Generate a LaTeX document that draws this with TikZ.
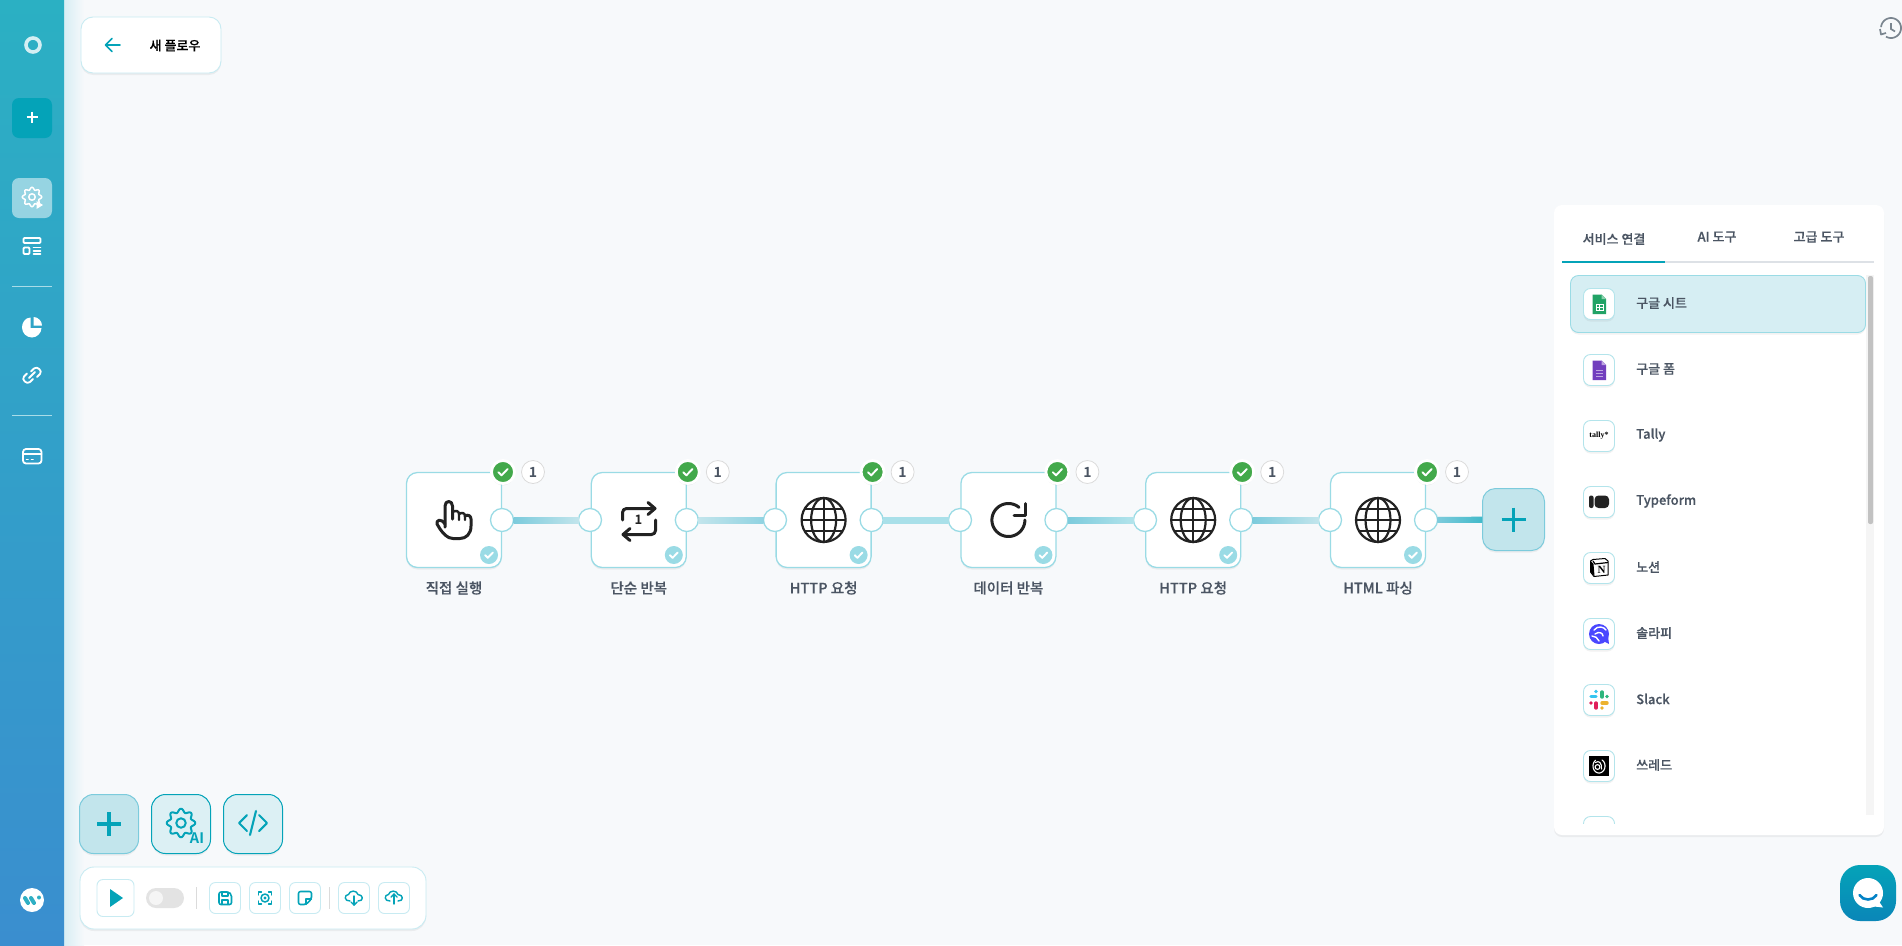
\documentclass[tikz,border=0pt]{standalone}
\usepackage{fontspec}
\setmainfont{Noto Sans CJK KR}[BoldFont={Noto Sans CJK KR Medium},BoldFeatures={FakeBold=0.3}]
\newfontfamily\heavyface{Noto Sans CJK KR Bold}
\newfontfamily\logoserif{Liberation Serif}
\usetikzlibrary{calc,shadows}

\definecolor{pagebg}{HTML}{F7F9FB}
\definecolor{tealmain}{HTML}{04A3B8}
\definecolor{tealpale}{HTML}{C2E5EC}
\definecolor{tealmist}{HTML}{DCF0F4}
\definecolor{tealline}{HTML}{9ADBE5}
\definecolor{tealedge}{HTML}{7CCBDC}
\definecolor{frameline}{HTML}{C8EBF2}
\definecolor{labelgray}{HTML}{4B5563}
\definecolor{okgreen}{HTML}{43A94B}
\definecolor{inkdark}{HTML}{222222}
\definecolor{sidetop}{HTML}{2BB0C3}
\definecolor{sidebottom}{HTML}{3A8ECF}
\definecolor{sideglow}{HTML}{D8EEF4}
\definecolor{sidesep}{HTML}{A9DCE8}
\definecolor{logoteal}{HTML}{2FAFC4}
\definecolor{historygray}{HTML}{7A858F}
\definecolor{tabrule}{HTML}{DDE1E6}
\definecolor{rowfill}{HTML}{D6EEF3}
\definecolor{sheetgreen}{HTML}{21A366}
\definecolor{sheetfold}{HTML}{8CD2AF}
\definecolor{formpurple}{HTML}{723FBE}
\definecolor{formfold}{HTML}{BEA5E1}
\definecolor{solapiblue}{HTML}{4A47FF}
\definecolor{slackblue}{HTML}{36C5F0}
\definecolor{slackgreen}{HTML}{2EB67D}
\definecolor{slackyellow}{HTML}{ECB22E}
\definecolor{slackred}{HTML}{E01E5A}
\definecolor{chatbottom}{HTML}{0A86B8}

\tikzset{
  softshadow/.style={drop shadow={opacity=.10,shadow xshift=0pt,shadow yshift=-2pt}},
  flowbox/.style={draw=tealline,line width=1.3pt,fill=white,rounded corners=11pt,minimum size=95pt,inner sep=0pt,outer sep=0pt,softshadow},
  portdot/.style={circle,draw=tealline,line width=1.3pt,fill=white,minimum size=23pt,inner sep=0pt,outer sep=0pt},
  okdot/.style={circle,draw=white,line width=2.8pt,fill=okgreen,minimum size=23pt,inner sep=0pt,outer sep=0pt,softshadow},
  countdot/.style={circle,draw=black!14,line width=.8pt,fill=white,minimum size=23pt,inner sep=0pt,text=labelgray,font=\heavyface\fontsize{14}{14}\selectfont},
  donedot/.style={circle,fill=tealline,minimum size=18pt,inner sep=0pt},
  flowlabel/.style={text=labelgray,inner sep=0pt,font=\fontsize{14.5}{16}\selectfont\bfseries},
  rowtext/.style={anchor=west,text=labelgray,inner sep=0pt,font=\fontsize{13}{15}\selectfont\bfseries},
  tabtext/.style={text=labelgray,inner sep=0pt,font=\fontsize{13}{15}\selectfont\bfseries},
  iconbox/.style={draw=tealline!75,line width=.9pt,fill=white,rounded corners=7pt,minimum size=31pt,inner sep=0pt,softshadow},
  toolbtn/.style={draw=frameline,line width=.9pt,fill=white,rounded corners=6pt,minimum size=31pt,inner sep=0pt},
  bigbtn/.style={draw=tealmain,line width=1pt,fill=tealmist,rounded corners=14pt,minimum size=59pt,inner sep=0pt,softshadow},
  plusbtn/.style={draw=tealedge,line width=1pt,fill=tealpale,rounded corners=13pt,inner sep=0pt,softshadow},
  sideicon/.style={draw=white,line width=1.8pt,line cap=round,line join=round},
  tealicon/.style={draw=tealmain,line width=1.6pt,line cap=round,line join=round},
  inkicon/.style={draw=inkdark,line width=3pt,line cap=round,line join=round},
  tickmark/.pic={\draw[white,line width=1.9pt,line cap=round,line join=round] (-4.6,.2) -- (-1.4,3.3) -- (4.6,-3);},
  globeicon/.pic={
    \draw[inkdark,line width=2.2pt] (0,0) circle (22);
    \draw[inkdark,line width=2.2pt] (0,0) ellipse (12.5 and 22);
    \draw[inkdark,line width=2.2pt] (0,-22) -- (0,22);
    \draw[inkdark,line width=2.2pt] (-22,0) -- (22,0);
    \draw[inkdark,line width=2.2pt] (-18.5,-11) -- (18.5,-11);
    \draw[inkdark,line width=2.2pt] (-18.5,11) -- (18.5,11);
  },
  plusicon/.pic={\draw[tealmain,line width=3.2pt] (-12,0) -- (12,0); \draw[tealmain,line width=3.2pt] (0,-12) -- (0,12);},
  gearicon/.pic={\draw plot[domain=0:360,samples=129,smooth] ({(#1*(1+.14*cos(8*\x)))*cos(\x)},{(#1*(1+.14*cos(8*\x)))*sin(\x)}) -- cycle; \draw (0,0) circle (#1*.38);},
  cloudicon/.pic={\draw (-4,4) .. controls (-10,4.5) and (-10,-2.5) .. (-5.5,-2.5) .. controls (-4.5,-7) and (3,-7) .. (4,-2.5) .. controls (9.5,-2.5) and (10,4.5) .. (4,4);}
}

% one step of the flow: box, output port, badges, caption
\newcommand{\flowstep}[3]{%
  \node[flowbox] (#1) at (#2,520) {};
  \node[portdot] (#1out) at (#2+48,520) {};
  \node[okdot] (#1ok) at (#2+49,472) {};
  \pic at (#1ok) {tickmark};
  \node[countdot] (#1num) at (#2+79,472) {1};
  \node[donedot] (#1done) at (#2+35,555) {};
  \pic[scale=.85] at (#1done) {tickmark};
  \node[flowlabel] (#1label) at (#2,588) {#3};
}
\newcommand{\flowlink}[4]{%
  \draw[draw=#4,line width=6pt] (#1) -- (#2);
  \shade[left color=#3,right color=#4] ($(#1.east)+(0,-3)$) rectangle ($(#2.west)+(0,3)$);
}
\newcommand{\toolrow}[3]{%
  \node[iconbox] (#1) at (1599,#2) {};
  \node[rowtext] (#1text) at (1636,#2-1) {#3};
}

\begin{document}
\begin{tikzpicture}[x=1pt,y=-1pt]
  \useasboundingbox (0,0) rectangle (1902,945);
  \fill[pagebg] (0,0) rectangle (1902,945);

  % side bar
  \shade[left color=sideglow,right color=pagebg] (64,0) rectangle (84,945);
  \shade[top color=sidetop,bottom color=sidebottom] (0,0) rectangle (64,945);
  \draw[white,line width=3.6pt,opacity=.8] (33,45) circle (7);
  \node[fill=tealmain,rounded corners=7pt,minimum size=40pt,inner sep=0pt] (newbtn) at (32,118) {};
  \draw[white,line width=1.5pt] (26.5,117) -- (37.5,117);
  \draw[white,line width=1.5pt] (32,111.5) -- (32,122.5);
  \node[fill=white,fill opacity=.5,rounded corners=7pt,minimum size=40pt,inner sep=0pt] (flowbtn) at (32,198) {};
  \pic[sideicon,line width=1.5pt] at (32,197) {gearicon=8.5};
  \fill[white] (36.5,201) -- (43,205) -- (36.5,209) -- cycle;
  \draw[sideicon,rounded corners=1pt] (23.5,238) rectangle (40.5,243);
  \draw[sideicon,rounded corners=1pt] (23.5,247.5) rectangle (29.5,254);
  \draw[sideicon] (33.5,247.5) -- (40.5,247.5);
  \draw[sideicon] (33.5,251) -- (40.5,251);
  \draw[sideicon] (33.5,254) -- (40.5,254);
  \draw[sidesep,line width=.8pt] (12,286) -- (52,286);
  \fill[white] (30.5,317.5) .. controls (25,317.5) and (22,323) .. (22,327.5) .. controls (22,333) and (26.5,337.5) .. (32,337.5) .. controls (37,337.5) and (41.5,333) .. (41.5,328) -- (30.5,328) -- cycle;
  \fill[white] (33.5,317) .. controls (38,317) and (42,321) .. (42,325.5) -- (33.5,325.5) -- cycle;
  \draw[sideicon] (31,371.5) -- (34,368.5) .. controls (37,365.5) and (43,371) .. (40,374) -- (37,377);
  \draw[sideicon] (33,379) -- (30,382) .. controls (27,385) and (21,379.5) .. (24,376.5) -- (27,373.5);
  \draw[sideicon] (29,378) -- (35,372);
  \draw[sidesep,line width=.8pt] (12,415) -- (52,415);
  \draw[sideicon,rounded corners=3pt] (23,449) rectangle (41.5,463.5);
  \draw[sideicon] (23,454) -- (41.5,454);
  \draw[sideicon] (26.5,459.5) -- (28,459.5);
  \draw[sideicon] (31.5,459.5) -- (33,459.5);
  \fill[white] (32,900) circle (12);
  \draw[logoteal,line width=4pt,line cap=round] (25,898) -- (28,903);
  \draw[logoteal,line width=4pt,line cap=round] (31,898) -- (34,903);
  \fill[logoteal] (39,897.5) circle (2);

  % back box
  \node[draw=frameline,line width=.9pt,fill=white,rounded corners=12pt,minimum width=140pt,minimum height=56pt,inner sep=0pt,softshadow] (backbox) at (151,45) {};
  \draw[tealmain,line width=1.6pt,line cap=round,line join=round] (120,45) -- (106,45);
  \draw[tealmain,line width=1.6pt,line cap=round,line join=round] (112,38.5) -- (105.5,45) -- (112,51.5);
  \node[inner sep=0pt,text=black,font=\fontsize{13}{15}\selectfont\bfseries] (backtext) at (175,45.5) {새 플로우};

  % history
  \draw[historygray,line width=1.7pt] plot[domain=185:480,samples=40] ({1891+10*cos(\x)},{28+10*sin(\x)});
  \draw[historygray,line width=1.7pt] (1891,23) -- (1891,29) -- (1895,31.5);
  \draw[historygray,line width=1.7pt,line join=round] (1880,29) -- (1881,34.5) -- (1886,33);

  % flow
  \flowstep{handstep}{454}{직접 실행}
  \flowstep{repeatstep}{638.8}{단순 반복}
  \flowstep{httpstep}{823.6}{HTTP 요청}
  \flowstep{loopstep}{1008.4}{데이터 반복}
  \flowstep{httpagain}{1193.2}{HTTP 요청}
  \flowstep{htmlstep}{1378}{HTML 파싱}
  \node[portdot] (repeatin) at (590,520) {};
  \node[portdot] (httpin) at (775,520) {};
  \node[portdot] (loopin) at (960,520) {};
  \node[portdot] (againin) at (1145,520) {};
  \node[portdot] (htmlin) at (1330,520) {};
  \node[plusbtn,minimum size=62pt] (addstep) at (1513.5,519.5) {};
  \pic at (addstep) {plusicon};

  \flowlink{handstepout}{repeatin}{tealedge}{tealpale}
  \flowlink{repeatstepout}{httpin}{tealpale}{tealedge!85!white}
  \flowlink{httpstepout}{loopin}{tealline!85!white}{tealline!85!white}
  \flowlink{loopstepout}{againin}{tealedge}{tealline!75!white}
  \flowlink{httpagainout}{htmlin}{tealedge}{tealpale}
  \flowlink{htmlstepout}{addstep}{tealedge}{tealmain!75!white}

  % icons of the steps
  \draw[inkicon] (445,527) -- (445,506) .. controls (445,500) and (452.5,500) .. (452.5,506) -- (452.5,519);
  \draw[inkicon,line width=2.4pt] (452.5,512) .. controls (456,510) and (459,511) .. (459,514) -- (459,520);
  \draw[inkicon,line width=2.4pt] (459,514) .. controls (462,512) and (465,513) .. (465,516) -- (465,520);
  \draw[inkicon] (465,516) .. controls (468,514) and (471,516) .. (471,519) -- (471,526) .. controls (471,534) and (466,538.5) .. (460,538.5) -- (453,538.5) .. controls (447,538.5) and (443,533) .. (440,529) -- (437,524) .. controls (436,520) and (441,518) .. (445,524);

  \draw[inkicon,rounded corners=4pt] (622.5,520) -- (622.5,508.5) -- (654,508.5);
  \draw[inkicon] (648,502.5) -- (655,508.5) -- (648,514.5);
  \draw[inkicon,rounded corners=4pt] (655.5,520) -- (655.5,534.5) -- (624,534.5);
  \draw[inkicon] (630,528.5) -- (623,534.5) -- (630,540.5);
  \node[inner sep=0pt,text=inkdark,font=\heavyface\fontsize{13}{13}\selectfont] (repeatnum) at (638.5,519.5) {1};

  \pic at (httpstep) {globeicon};
  \pic at (httpagain) {globeicon};
  \pic at (htmlstep) {globeicon};

  \draw[inkicon] plot[domain=0:310,samples=40] ({1008.4+16.5*cos(\x)},{520+16.5*sin(\x)});
  \draw[inkicon] (1025,503.5) -- (1025,515) -- (1014,515);

  % bottom buttons
  \node[plusbtn,rounded corners=14pt,minimum size=59pt] (addbtn) at (109,824) {};
  \pic at (addbtn) {plusicon};
  \node[bigbtn] (aibtn) at (181,824) {};
  \pic[tealicon,line width=2pt] at (181,823) {gearicon=12.5};
  \node[inner sep=0pt,text=tealmain,font=\heavyface\fontsize{14.5}{15}\selectfont] (aitext) at (197,838) {AI};
  \node[bigbtn] (codebtn) at (253,824) {};
  \draw[tealicon,line width=2.1pt] (247,815) -- (239,823) -- (247,831);
  \draw[tealicon,line width=2.1pt] (259,815) -- (267,823) -- (259,831);
  \draw[tealicon,line width=2.1pt] (256,811) -- (250,835);

  \node[draw=frameline,line width=.9pt,fill=white,rounded corners=14pt,minimum width=346pt,minimum height=62pt,inner sep=0pt,softshadow] (toolbar) at (253,898) {};
  \node[toolbtn,minimum size=37pt] (playbtn) at (115.5,898) {};
  \fill[tealmain] (110,889) -- (123,898) -- (110,907) -- cycle;
  \node[fill=black!11,rounded corners=10pt,minimum width=38pt,minimum height=20pt,inner sep=0pt] (toggle) at (165,898) {};
  \node[circle,fill=black!4,minimum size=14pt,inner sep=0pt] (toggleknob) at (156,898) {};
  \draw[black!14,line width=.9pt] (196.5,887) -- (196.5,909);
  \draw[black!14,line width=.9pt] (329.5,887) -- (329.5,909);
  \node[toolbtn] (savebtn) at (225,898) {};
  \node[toolbtn] (shotbtn) at (265,898) {};
  \node[toolbtn] (notebtn) at (305,898) {};
  \node[toolbtn] (downbtn) at (354,898) {};
  \node[toolbtn] (upbtn) at (394,898) {};
  \draw[tealicon,rounded corners=2pt] (219,892) -- (229,892) -- (231.5,894.5) -- (231.5,904.5) -- (219,904.5) -- cycle;
  \draw[tealicon,line width=1.3pt] (222,892) -- (222,896) -- (228,896) -- (228,892);
  \draw[tealicon,line width=1.3pt] (222,904.5) -- (222,900) -- (228,900) -- (228,904.5);
  \draw[tealicon,line width=1.5pt] (265,898) circle (4);
  \fill[tealmain] (265,898) circle (1.6);
  \draw[tealicon,line width=1.3pt] (258.5,895) -- (258.5,892) -- (261.5,892);
  \draw[tealicon,line width=1.3pt] (268.5,892) -- (271.5,892) -- (271.5,895);
  \draw[tealicon,line width=1.3pt] (258.5,901) -- (258.5,904) -- (261.5,904);
  \draw[tealicon,line width=1.3pt] (268.5,904) -- (271.5,904) -- (271.5,901);
  \draw[tealicon,rounded corners=2pt] (311.5,899) -- (311.5,891.5) -- (298.5,891.5) -- (298.5,904.5) -- (306,904.5) -- cycle;
  \draw[tealicon,line width=1.3pt] (306,904.5) -- (306,899) -- (311.5,899);
  \pic[tealicon,line width=1.4pt] at (354,897) {cloudicon};
  \draw[tealicon,line width=1.4pt] (354,896) -- (354,905);
  \draw[tealicon,line width=1.4pt] (351,902) -- (354,905) -- (357,902);
  \pic[tealicon,line width=1.4pt] at (394,897) {cloudicon};
  \draw[tealicon,line width=1.4pt] (394,894) -- (394,904);
  \draw[tealicon,line width=1.4pt] (391,897) -- (394,894) -- (397,897);

  % tool panel
  \node[fill=white,rounded corners=8pt,minimum width=330pt,minimum height=630pt,inner sep=0pt,softshadow] (toolpanel) at (1719,520) {};
  \node[tabtext] (tabservice) at (1614,239) {서비스 연결};
  \node[tabtext] (tabai) at (1717,237) {AI 도구};
  \node[tabtext] (tabadvanced) at (1819,237) {고급 도구};
  \draw[tabrule,line width=2pt] (1562,261.5) -- (1874,261.5);
  \draw[tealmain,line width=2pt] (1562,261.5) -- (1665,261.5);
  \fill[black!4] (1866,275) rectangle (1874,815);
  \fill[black!24,rounded corners=2pt] (1868,276) rectangle (1873,524);
  \node[draw=tealline,line width=.9pt,fill=rowfill,rounded corners=8pt,minimum width=295pt,minimum height=57pt,inner sep=0pt,softshadow] (activerow) at (1718,304) {};

  \toolrow{gsheet}{304}{구글 시트}
  \toolrow{gform}{370}{구글 폼}
  \toolrow{tallyrow}{436}{Tally}
  \toolrow{typeform}{502}{Typeform}
  \toolrow{notion}{568}{노션}
  \toolrow{solapi}{634}{솔라피}
  \toolrow{slack}{700}{Slack}
  \toolrow{threads}{766}{쓰레드}
  \begin{scope}
    \clip (1570,810) rectangle (1862,823);
    \node[draw=tealline!75,line width=.9pt,fill=white,rounded corners=7pt,minimum size=31pt,inner sep=0pt] (nextrow) at (1599,832) {};
  \end{scope}

  % tool logos
  \fill[sheetgreen] (1592.5,294.5) -- (1601.5,294.5) -- (1606,299) -- (1606,314) -- (1592.5,314) -- cycle;
  \fill[sheetfold] (1601.5,294.5) -- (1606,299) -- (1601.5,299) -- cycle;
  \draw[white,line width=.9pt] (1596,304.5) rectangle (1603,310);
  \draw[white,line width=.9pt] (1599.5,304.5) -- (1599.5,310);
  \draw[white,line width=.9pt] (1596,307.2) -- (1603,307.2);
  \fill[formpurple] (1592.5,360.5) -- (1601.5,360.5) -- (1606,365) -- (1606,380) -- (1592.5,380) -- cycle;
  \fill[formfold] (1601.5,360.5) -- (1606,365) -- (1601.5,365) -- cycle;
  \draw[formfold,line width=.9pt] (1596,370) -- (1603,370);
  \draw[formfold,line width=.9pt] (1596,373) -- (1603,373);
  \draw[formfold,line width=.9pt] (1596,376) -- (1603,376);
  \node[inner sep=0pt,text=black,font=\logoserif\fontsize{8}{8}\selectfont\bfseries] (tallylogo) at (1599,436) {tally*};
  \fill[inkdark,rounded corners=2pt] (1589,495.5) rectangle (1593.5,508);
  \fill[inkdark,rounded corners=4pt] (1594.5,495.5) rectangle (1609,508);
  \draw[black,line width=1pt,fill=white,line join=round] (1593,559.5) -- (1605,558.5) -- (1608,561) -- (1608,575) -- (1594,576.5) -- (1590.5,572) -- (1590.5,561) -- cycle;
  \fill[black] (1590.5,561) -- (1593.5,564) -- (1594.5,576) -- (1590.5,572) -- cycle;
  \draw[black,line width=1.2pt] (1593,561) -- (1595,564) -- (1608,562.5);
  \node[inner sep=0pt,text=black,font=\logoserif\fontsize{11}{11}\selectfont\bfseries] (notionlogo) at (1601.5,570) {N};
  \fill[solapiblue] (1599,634) circle (10);
  \fill[solapiblue] (1603,641) -- (1609,644) -- (1608,636) -- cycle;
  \draw[white,line width=1.4pt,line cap=round] (1594,630) .. controls (1598,625) and (1604,627) .. (1606,630);
  \draw[white,line width=1.4pt,line cap=round] (1595,634) .. controls (1599,631) and (1603,633) .. (1603,636);
  \draw[white,line width=1.4pt,line cap=round] (1592,636) .. controls (1595,636) and (1598,638) .. (1599,641);
  \draw[slackblue,line width=3.4pt,line cap=round] (1591,696.5) -- (1596,696.5);
  \fill[slackblue] (1596,691.5) circle (1.8);
  \draw[slackgreen,line width=3.4pt,line cap=round] (1602,692) -- (1602,697);
  \fill[slackgreen] (1607,696.5) circle (1.8);
  \draw[slackyellow,line width=3.4pt,line cap=round] (1602,703) -- (1607,703);
  \fill[slackyellow] (1602,708) circle (1.8);
  \draw[slackred,line width=3.4pt,line cap=round] (1596,703) -- (1596,708);
  \fill[slackred] (1591,703) circle (1.8);
  \fill[black] (1589,756) rectangle (1609,776);
  \draw[white,line width=1.1pt,line cap=round] plot[domain=-60:235,samples=30] ({1599+6*cos(\x)},{766+7*sin(\x)});
  \draw[white,line width=1.1pt] (1597.5,767) circle (2.4);
  \draw[white,line width=1.1pt,line cap=round] (1595.5,762.5) .. controls (1599,760) and (1602,763) .. (1601.5,769);

  % chat button
  \shade[top color=tealmain,bottom color=chatbottom,rounded corners=20pt] (1840,865) rectangle (1896,921);
  \fill[white] (1868,893) circle (15);
  \fill[white] (1876,897) -- (1883,907.5) -- (1870,906) -- cycle;
  \draw[tealmain!80!blue,line width=2.6pt,line cap=round] (1859.5,895) .. controls (1863,901) and (1873,901) .. (1876.5,895);
\end{tikzpicture}
\end{document}
